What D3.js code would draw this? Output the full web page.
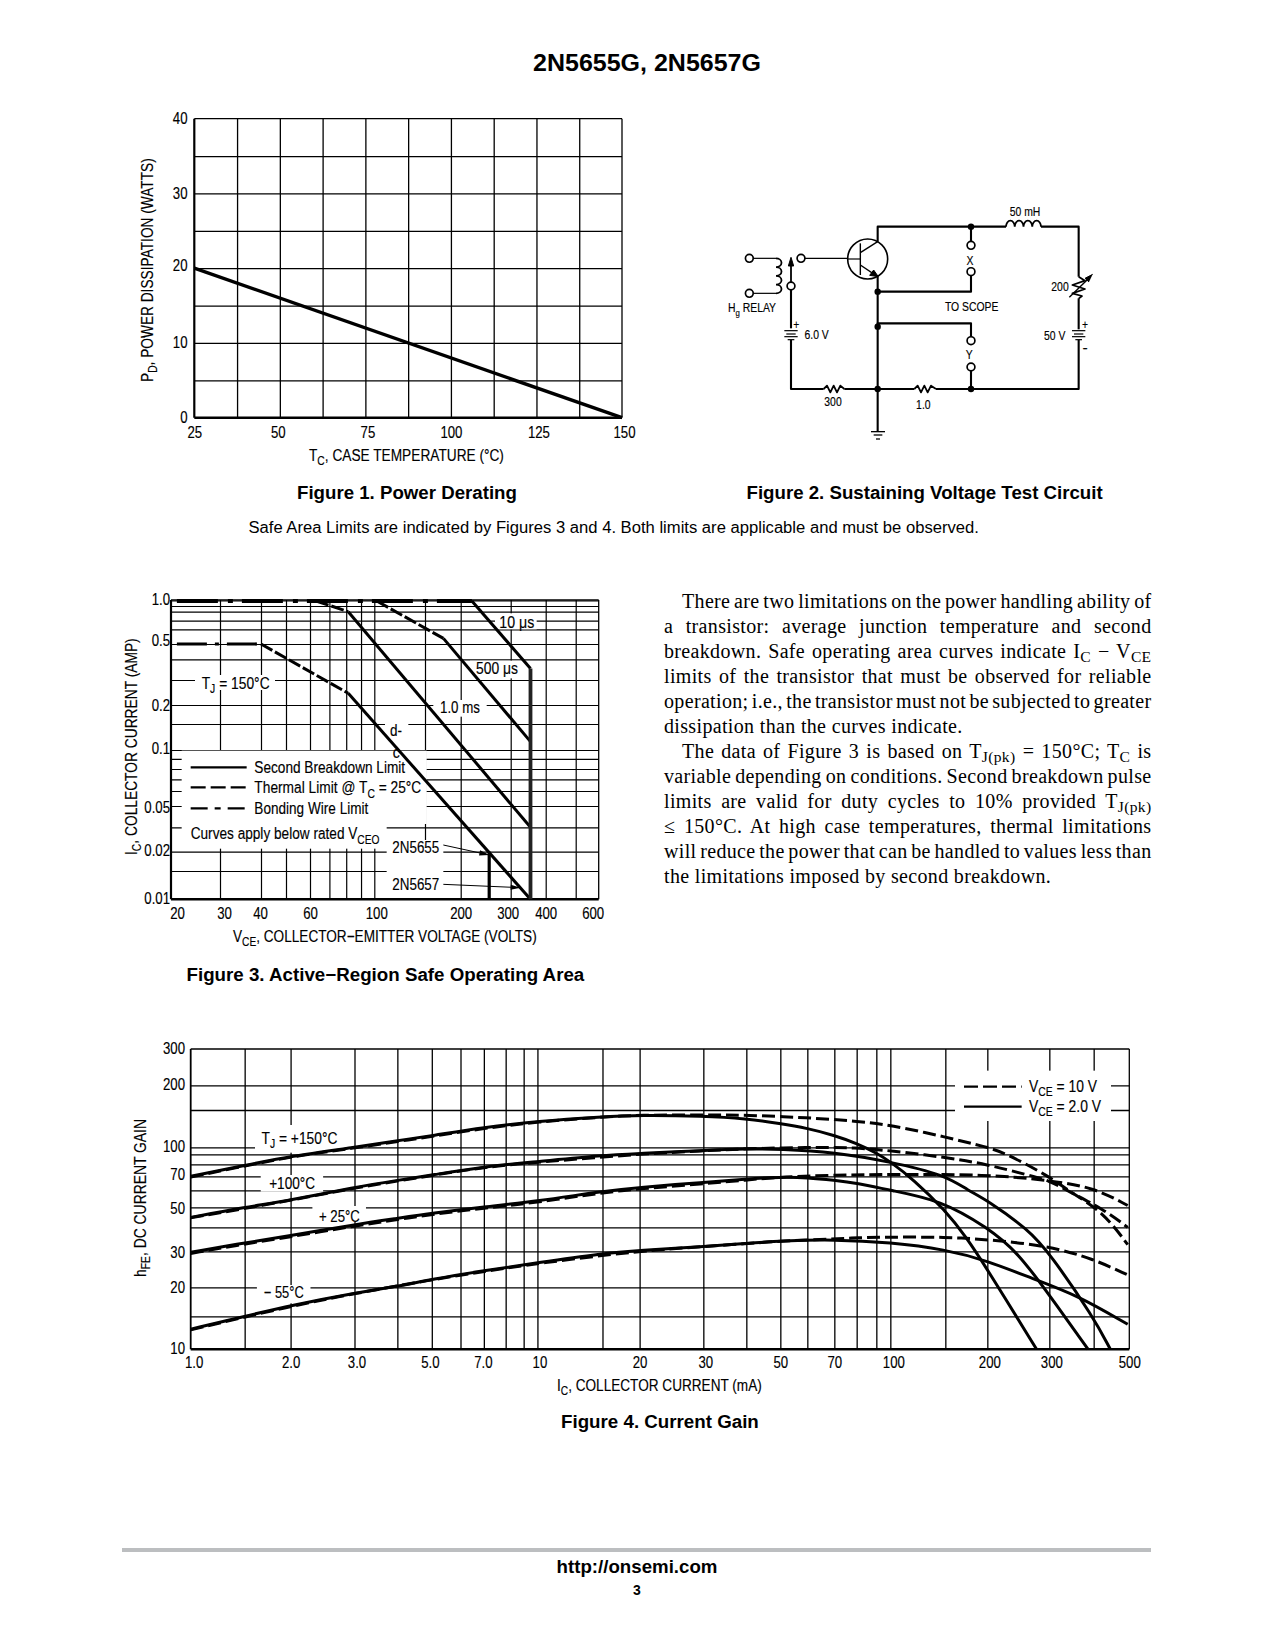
<!DOCTYPE html>
<html><head><meta charset="utf-8">
<script src="https://cdn.jsdelivr.net/npm/d3@7/dist/d3.min.js"></script>
<style>html,body{margin:0;padding:0;background:#fff}svg{display:block}</style>
</head><body><svg id="page" width="1275" height="1650" xmlns="http://www.w3.org/2000/svg"></svg>
<script>
// ---------- Figure 1 data
const f1TempTicks = [25,50,75,100,125,150];
const f1PowerTicks = [0,10,20,30,40];
const f1TempGrid = [37.5,50,62.5,75,87.5,100,112.5,125,137.5];
const f1PowerGrid = [5,10,15,20,25,30,35];
const f1Derating = [[25,20],[150,0]];
// ---------- Figure 3 data
const f3VoltTicks = [20,30,40,60,100,200,300,400,600];
const f3VoltGrid = [30,40,50,60,70,80,90,100,150,200,300,400,500];
const f3AmpTicks = [0.01,0.02,0.05,0.1,0.2,0.5,1];
const f3AmpGrid = [0.015,0.02,0.03,0.05,0.06,0.07,0.08,0.09,0.1,0.15,0.2,0.3,0.4,0.5,0.6,0.7,0.8,0.9];
const f3Bond1A = [[21,1],[219,1]];
const f3BondHalf = [[21,0.5],[40,0.5]];
const f3ThermDC = [[40,0.5],[81.3,0.242]];
const f3Therm1ms = [[63,1],[81.3,0.8]];
const f3Therm500 = [[102,1],[174,0.536]];
const f3SecondDC = [[81.3,0.242],[353,0.01]];
const f3Second1ms = [[81.3,0.8],[353,0.03]];
const f3Second500 = [[174,0.536],[353,0.114]];
const f3Second10 = [[219,1],[353,0.352]];
const f3Limit5657 = [[353,0.352],[353,0.01]];
const f3Limit5655 = [[252,0.02],[252,0.01]];
// ---------- Figure 4 data
const f4CurrentTicks = [1,2,3,5,7,10,20,30,50,70,100,200,300,500];
const f4CurrentGrid = [1.5,2,3,4,5,6,7,8,9,10,15,20,30,40,50,60,70,80,90,100,150,200,300,400];
const f4GainTicks = [10,20,30,50,70,100,200,300];
const f4GainGrid = [15,20,30,40,50,60,70,80,90,100,150,200];
const s150 = [[1,70],[1.5,79],[2,88],[3,100],[4,107.5],[5,113.5],[7,124],[10,133],[15,139.5],[20,142],[30,140.5],[40,136.5],[50,129.5],[60,123],[70,114],[80,104.4],[90,92],[100,82.5],[118,68],[150,48.4],[173,35.6],[200,24.5],[276,10]];
const d150 = [[1,69.5],[1.5,78.5],[2,87.5],[3,99],[4,106.5],[5,112.5],[7,123],[10,132],[15,139],[20,142],[30,142],[40,142],[60,138],[80,133],[100,127.6],[150,112],[200,100],[222,93],[300,70],[343,59],[425,47.5],[495,32.5]];
const s100 = [[1,44.7],[1.5,50],[2,54],[3,62],[4,67],[5,71],[7,78],[10,82.5],[15,89],[20,91],[30,95.5],[40,98],[50,97.5],[70,93],[100,82.5],[150,71],[175,60],[200,54],[261,39],[300,29.5],[400,14.8],[444,10]];
const d100 = [[1,44.5],[2,53.8],[3,61.7],[5,70.6],[7,77.6],[10,82],[20,90.5],[30,95],[40,98],[60,100],[80,99.5],[100,95],[150,87],[200,80],[260,71],[300,67],[345,58.5],[425,49],[495,40]];
const s25 = [[1,29.7],[1.5,33.2],[2,36.2],[3,41.2],[4,44.2],[5,46.8],[7,50.3],[10,53.4],[15,59.4],[20,62],[30,65.5],[40,68],[50,69.5],[60,69],[70,67],[80,65],[100,60],[145,54],[200,40],[245,29.5],[300,18.5],[386,10]];
const d25 = [[1,29.3],[1.5,32.8],[2,35.7],[3,40.6],[4,43.6],[5,46.2],[7,49.6],[10,52.7],[15,58.6],[20,61],[30,64.5],[40,67.2],[50,69.5],[70,71],[100,71.5],[200,71.5],[300,67],[400,62],[495,51]];
const sM55 = [[1,12.8],[1.5,15],[2,16.7],[3,18.9],[4,20.2],[5,21.9],[7,24.1],[10,26.4],[15,29.3],[20,30.3],[30,31.8],[40,33],[50,34],[70,34.6],[100,33.4],[150,30.7],[200,27],[270,22],[360,18.5],[495,13.6]];
const dM55 = [[1,12.7],[2,16.6],[3,18.8],[5,21.8],[7,23.9],[10,26.2],[20,30.2],[30,31.7],[50,34],[70,34.8],[80,35.3],[100,35.6],[150,35.6],[200,34.6],[300,32],[400,27.5],[495,23]];
// ---------- Text
const paragraphLines = [
  [["There are two limitations on the power handling ability of"]],
  [["a transistor: average junction temperature and second"]],
  [["breakdown. Safe operating area curves indicate I"],["C","sub"],[" − V"],["CE","sub"]],
  [["limits of the transistor that must be observed for reliable"]],
  [["operation; i.e., the transistor must not be subjected to greater"]],
  [["dissipation than the curves indicate."]],
  [["The data of Figure 3 is based on T"],["J(pk)","sub"],[" = 150°C; T"],["C","sub"],[" is"]],
  [["variable depending on conditions. Second breakdown pulse"]],
  [["limits are valid for duty cycles to 10% provided T"],["J(pk)","sub"]],
  [["≤ 150°C. At high case temperatures, thermal limitations"]],
  [["will reduce the power that can be handled to values less than"]],
  [["the limitations imposed by second breakdown."]]
];

const svg = d3.select("#page");
svg.append("rect").attr("width",1275).attr("height",1650).attr("fill","#fff");
const SANS = "'Liberation Sans', Arial, sans-serif", SERIF = "'Liberation Serif', serif";
const NARROW = 0.8, TICK = 16.5, HEAVY = 0.15;

function label(parent, segs, x, y, o={}){
  const size = o.size||TICK, anchor=o.anchor||"start";
  if(typeof segs==="string") segs=[[segs]];
  const t = parent.append("text").attr("font-family",o.family||SANS).attr("font-size",size)
    .attr("font-weight",o.weight||"normal").attr("text-anchor",anchor).attr("fill","#000");
  if(o.heavy!==false && !o.weight && !o.family) t.attr("stroke","#000").attr("stroke-width",HEAVY);
  if(o.spacing) t.attr("letter-spacing",o.spacing);
  let low=false;
  segs.forEach(s=>{
    const ts=t.append("tspan").text(s[0]);
    t.style("white-space","pre");
    const sub=s[1]==="sub";
    if(sub){ts.attr("font-size",size*(o.subScale||0.75));}
    if(sub&&!low){ts.attr("dy",size*(o.subDrop||0.27));low=true;}
    else if(!sub&&low){ts.attr("dy",-size*(o.subDrop||0.27));low=false;}
  });
  const yy = o.center? y+size*0.36 : y;
  let sx = o.sx||NARROW;
  if(o.width){ sx = o.width/t.node().getComputedTextLength(); }
  t.attr("transform",`translate(${x},${yy})${o.rotate?` rotate(${o.rotate})`:""} scale(${sx},1)`);
  return t;
}
function drawPath(g,data,x,y,o={}){
  const gen=d3.line().x(d=>x(d[0])).y(d=>y(d[1]));
  if(o.curve) gen.curve(o.curve);
  return g.append("path").datum(data).attr("d",gen).attr("fill","none").attr("stroke",o.color||"#000")
    .attr("stroke-width",o.w||3).attr("stroke-dasharray",o.dash||null)
    .attr("stroke-linecap",o.cap||"butt").attr("stroke-linejoin","round");
}
function gridX(g,x,vals,top,bottom,w=1.3){
  const a=g.append("g").attr("transform",`translate(0,${bottom})`)
    .call(d3.axisBottom(x).tickValues(vals).tickSize(-(bottom-top)).tickFormat(""));
  a.select(".domain").remove(); a.selectAll("line").attr("stroke","#000").attr("stroke-width",w);
}
function gridY(g,y,vals,left,right,w=1.3){
  const a=g.append("g").attr("transform",`translate(${left},0)`)
    .call(d3.axisLeft(y).tickValues(vals).tickSize(-(right-left)).tickFormat(""));
  a.select(".domain").remove(); a.selectAll("line").attr("stroke","#000").attr("stroke-width",w);
}
function frame(g,l,t,r,b,o={}){
  const R=(x1,y1,x2,y2,w)=>g.append("line").attr("x1",x1).attr("y1",y1).attr("x2",x2).attr("y2",y2).attr("stroke","#000").attr("stroke-width",w);
  R(l,t,r,t,1.3);R(r,t,r,b,1.3);R(l,t,l,b,o.lw||2.2);R(l,b,r,b,o.bw||2.4);
}
function xLabels(g,x,vals,base,fmt,nudge=()=>0,size=TICK){
  const a=g.append("g").attr("transform",`translate(0,${base})`)
    .call(d3.axisBottom(x).tickValues(vals).tickSize(0).tickPadding(0).tickFormat(fmt));
  a.select(".domain").remove();a.selectAll("line").remove();
  a.selectAll("text").attr("dy",0).attr("y",0).attr("font-family",SANS).attr("font-size",size).attr("fill","#000")
    .attr("stroke","#000").attr("stroke-width",HEAVY)
    .attr("transform",d=>`translate(${nudge(d)},0) scale(${NARROW},1)`);
}
function yLabels(g,y,vals,rightX,fmt,nudge=()=>0,size=TICK){
  const a=g.append("g").attr("transform",`translate(${rightX},0)`)
    .call(d3.axisLeft(y).tickValues(vals).tickSize(0).tickPadding(0).tickFormat(fmt));
  a.select(".domain").remove();a.selectAll("line").remove();
  a.selectAll("text").attr("x",0).attr("dy",0).attr("y",size*0.36).attr("font-family",SANS).attr("font-size",size).attr("fill","#000")
    .attr("stroke","#000").attr("stroke-width",HEAVY)
    .attr("transform",d=>`translate(0,${nudge(d)}) scale(${NARROW},1)`);
}
function mask(g,x0,y0,x1,y1){g.append("rect").attr("x",x0).attr("y",y0).attr("width",x1-x0).attr("height",y1-y0).attr("fill","#fff");}

// ---------- Page header and captions
label(svg,"2N5655G, 2N5657G",647,71,{size:23,weight:"bold",anchor:"middle",width:228});
label(svg,"Figure 1. Power Derating",297,499,{size:19,weight:"bold",width:220});
label(svg,"Figure 2. Sustaining Voltage Test Circuit",746.5,499,{size:19,weight:"bold",width:356.5});
label(svg,"Safe Area Limits are indicated by Figures 3 and 4. Both limits are applicable and must be observed.",248.5,533,{size:15.8,width:731,heavy:false});
label(svg,"Figure 3. Active−Region Safe Operating Area",186.5,981,{size:19,weight:"bold",width:398});
label(svg,"Figure 4. Current Gain",561,1428,{size:19,weight:"bold",width:198});
svg.append("rect").attr("x",122).attr("y",1548).attr("width",1029).attr("height",4).attr("fill","#bcbec0");
label(svg,"http://onsemi.com",637,1573,{size:18.5,weight:"bold",anchor:"middle",width:161});
label(svg,"3",637,1595,{size:14,weight:"bold",anchor:"middle",sx:1});

// ---------- Figure 1
(function(){
  const l=194.3,r=622,t=118.7,b=417.7;
  const x=d3.scaleLinear().domain([25,150]).range([l,r]);
  const y=d3.scaleLinear().domain([0,40]).range([b,t]);
  const g=svg.append("g");
  gridX(g,x,f1TempGrid,t,b);gridY(g,y,f1PowerGrid,l,r);frame(g,l,t,r,b);
  drawPath(g,f1Derating,x,y,{w:3.4});
  xLabels(g,x,f1TempTicks,437.5,d=>d,d=>({25:0,50:-2,75:2,100:0,125:2,150:2})[d]);
  yLabels(g,y,f1PowerTicks,187.5,d=>d,d=>({0:-1,10:-1,20:-4,30:-1,40:-1})[d]);
  label(g,[["T"],["C","sub"],[", CASE TEMPERATURE (°C)"]],309,460.5,{width:195});
  label(g,[["P"],["D","sub"],[", POWER DISSIPATION (WATTS)"]],152.5,382,{rotate:-90,width:224});
})();

// ---------- Figure 2: schematic, drawn in its own sheet units through two linear scales
(function(){
  const sx=d3.scaleLinear().domain([0,1380]).range([681,1141]);
  const sy=d3.scaleLinear().domain([0,960]).range([180,500]);
  const g=svg.append("g");
  const line=d3.line().x(d=>sx(d[0])).y(d=>sy(d[1]));
  const P=(pts,w=2,extra={})=>{const p=g.append("path").attr("d",line(pts)).attr("fill",extra.fill||"none").attr("stroke","#000").attr("stroke-width",w).attr("stroke-linejoin","round");return p;};
  const coil=(x0,x1,y0,n,r)=>{
    let d=`M${sx(x0)},${sy(y0)}`;const step=(sx(x1)-sx(x0))/n;
    for(let i=0;i<n;i++)d+=` a${step/2},${r} 0 0 1 ${step},0`;
    g.append("path").attr("d",d).attr("fill","none").attr("stroke","#000").attr("stroke-width",1.8);
  };
  const wires=[
    [[590,185],[590,140],[975,140]],[[1080,140],[1193,140],[1193,290]],[[1193,355],[1193,448]],
    [[1193,480],[1193,627],[765,627]],[[700,627],[490,627]],[[428,627],[330,627],[330,480]],[[330,445],[330,330]],
    [[590,290],[590,755]],[[590,335],[870,335],[870,288]],[[870,140],[870,184]],
    [[590,440],[590,430],[870,430],[870,470]],[[870,573],[870,627]]
  ];
  wires.forEach(w=>P(w,2.1));
  P([[428,627],[438,617],[448,637],[458,617],[468,637],[478,617],[490,627]],1.8);
  P([[700,627],[710,617],[720,637],[730,617],[740,637],[750,617],[765,627]],1.8);
  P([[1193,290],[1212,302],[1174,315],[1212,327],[1174,340],[1203,348],[1193,356]],1.8);
  P([[1165,352],[1225,293]],1.4);
  P([[1235,283],[1212,295],[1224,306]],1,{fill:"#000"}).attr("stroke-linejoin","miter");
  coil(975,1080,140,4,6);
  let cd=`M${sx(285)},${sy(235)}`;const stp=(sy(340)-sy(235))/4;
  for(let i=0;i<4;i++)cd+=` a5.5,${stp/2} 0 0 1 0,${stp}`;
  g.append("path").attr("d",cd).attr("fill","none").attr("stroke","#000").attr("stroke-width",1.8);
  P([[217,235],[285,235]],1.2);P([[217,340],[285,340]],1.2);
  P([[372,235],[500,235]],1.2);
  P([[330,306],[330,250]],1.8);
  P([[330,232],[322,258],[338,258],[330,232]],1,{fill:"#000"});
  g.append("ellipse").attr("cx",sx(560)).attr("cy",sy(237)).attr("rx",20).attr("ry",20).attr("fill","none").attr("stroke","#000").attr("stroke-width",1.6);
  P([[538,190],[538,285]],1.4);P([[500,237],[538,237]],1.2);P([[538,218],[590,185]],1.4);P([[538,255],[590,290]],1.4);
  P([[592,290],[566,286],[578,270],[592,290]],1,{fill:"#000"});
  [330,1193].forEach(b=>{
    P([[b-20,452],[b+20,452]],1.2);P([[b-14,462],[b+14,462]],1.2);P([[b-20,470],[b+20,470]],1.2);P([[b-10,479],[b+10,479]],1.2);
  });
  P([[570,755],[612,755]],1.3);P([[578,765],[604,765]],1.3);P([[585,777],[597,777]],1.3);
  [[870,140],[590,335],[590,440],[590,627],[870,627]].forEach(d=>g.append("circle").attr("cx",sx(d[0])).attr("cy",sy(d[1])).attr("r",3.2).attr("fill","#000"));
  [[205,235],[205,340],[360,235],[330,318],[870,196],[870,275],[870,482],[870,561]].forEach(d=>g.append("circle").attr("cx",sx(d[0])).attr("cy",sy(d[1])).attr("r",3.9).attr("fill","#fff").attr("stroke","#000").attr("stroke-width",1.7));
  const L=(s,X,Y,o={})=>label(g,s,sx(X),sy(Y),Object.assign({size:13,center:true,anchor:"middle"},o));
  L("50 mH",1032,95);L("200",1137,318);L("TO SCOPE",872,380);L("X",867,242);L("Y",865,523);
  L([["H"],["g","sub"],[" RELAY"]],213,383);L("6.0 V",407,462);L("50 V",1121,465);L("300",456,665);L("1.0",727,672);
  L("+",346,432);L("+",1212,432);L("-",1212,502,{sx:1.2});
})();

// ---------- Body text
(function(){
  const g=svg.append("g");
  const left=664,right=1151.5,indent=682,base0=608,lead=25,size=20;
  const lastLines=new Set([5,11]);
  paragraphLines.forEach((segs,i)=>{
    const x=(i===0||i===6)?indent:left;
    const t=label(g,segs,x,base0+lead*i,{family:SERIF,size,sx:1,subScale:0.78,subDrop:0.2,spacing:0.34});
    if(!lastLines.has(i)){
      const len=t.node().getComputedTextLength();
      const spaces=segs.map(s=>s[0]).join("").split(" ").length-1;
      t.attr("word-spacing",(right-x-len)/spaces);
    }
  });
})();

// ---------- Figure 3
(function(){
  const Z=X=>100+X/3, W=Y=>570+Y/3;
  const l=171,r=598.7,t=600,b=899.3;
  const x=d3.scaleLog().domain([20,30,40,50,60,100,150,200,300,400,500,600])
    .range([l,220,261,286,310,374.3,425,460.7,510.7,545.7,575.7,r]);
  const y=d3.scaleLog().domain([0.01,0.015,0.02,0.03,0.05,0.06,0.07,0.08,0.1,0.15,0.2,0.3,0.4,0.5,0.6,0.7,0.8,0.9,1])
    .range([b,W(903),W(845),W(772),W(708),W(663),W(628),W(597),W(540),W(462),W(405),W(330),W(268),W(222),W(178),W(152),W(125),W(108),W(93)]);
  const g=svg.append("g");
  gridX(g,x,f3VoltGrid,t,b,1.2);gridY(g,y,f3AmpGrid,l,r,1.2);
  g.append("line").attr("x1",l).attr("x2",r).attr("y1",y(1)).attr("y2",y(1)).attr("stroke","#000").attr("stroke-width",1.2);
  mask(g,Z(245),W(542),Z(980),W(762));mask(g,Z(245),W(762),Z(860),W(836));
  mask(g,Z(1185),W(130),Z(1310),W(178));mask(g,Z(1110),W(272),Z(1270),W(325));
  mask(g,Z(1000),W(390),Z(1160),W(440));mask(g,Z(285),W(315),Z(525),W(360));
  mask(g,Z(855),W(455),Z(925),W(505));
  mask(g,Z(860),W(810),Z(1030),W(985));
  frame(g,l,t,r,b,{bw:2.6});
  const BOND="41 10 5 9", THERM="13 3";
  drawPath(g,f3Bond1A,x,y,{w:4,dash:BOND});
  drawPath(g,f3BondHalf,x,y,{w:3.2,dash:"30 8 4 8"});
  drawPath(g,f3ThermDC,x,y,{dash:THERM});drawPath(g,f3Therm1ms,x,y,{dash:THERM});drawPath(g,f3Therm500,x,y,{dash:THERM});
  drawPath(g,f3SecondDC,x,y);drawPath(g,f3Second1ms,x,y);drawPath(g,f3Second500,x,y);drawPath(g,f3Second10,x,y);
  drawPath(g,f3Limit5657,x,y,{w:3.8,color:"#222"});drawPath(g,f3Limit5655,x,y,{w:3.2});
  const T=(s,X,Y,o={})=>label(g,s,Z(X),W(Y),Object.assign({center:true},o));
  T("10 μs",1198,155,{width:35});T("500 μs",1128,295,{width:42});T("1.0 ms",1020,412,{width:40});
  T([["T"],["J","sub"],[" = 150°C"]],305,338,{width:68});
  T("d-",870,480,{width:12});T("c",878,545,{width:7});
  [[592,null],[652,"15 5"],[715,"17 7 6 7"]].forEach(d=>g.append("line").attr("x1",Z(272)).attr("x2",Z(440)).attr("y1",W(d[0])).attr("y2",W(d[0])).attr("stroke","#000").attr("stroke-width",2.2).attr("stroke-dasharray",d[1]));
  T("Second Breakdown Limit",463,592,{width:151});
  T([["Thermal Limit @ T"],["C","sub"],[" = 25°C"]],463,652,{width:167});
  T("Bonding Wire Limit",463,715,{width:114});
  T([["Curves apply below rated V"],["CEO","sub"]],272,790,{width:189});
  T("2N5655",877,830,{width:47});T("2N5657",877,943,{width:47});
  const arrow=(a,c)=>{
    g.append("line").attr("x1",Z(a[0])).attr("y1",W(a[1])).attr("x2",Z(c[0])).attr("y2",W(c[1])).attr("stroke","#000").attr("stroke-width",1);
    const ang=Math.atan2(c[1]-a[1],c[0]-a[0])*180/Math.PI;
    g.append("path").attr("d","M0,0L-10,-2.6L-10,2.6Z").attr("transform",`translate(${Z(c[0])},${W(c[1])}) rotate(${ang})`).attr("fill","#000");
  };
  arrow([1030,825],[1168,855]);arrow([1030,943],[1262,953]);
  xLabels(g,x,f3VoltTicks,918.5,d=>d,d=>({20:6,30:4,40:-1,60:0,100:2,200:0,300:-3,400:0,600:-6})[d]);
  yLabels(g,y,f3AmpTicks,170,d=>d===1?"1.0":d,d=>({1:-2,0.5:-4,0.2:0,0.1:-2,0.05:1,0.02:-2,0.01:-2})[d]);
  label(g,[["V"],["CE","sub"],[", COLLECTOR−EMITTER VOLTAGE (VOLTS)"]],233,941.5,{width:304});
  label(g,[["I"],["C","sub"],[", COLLECTOR CURRENT (AMP)"]],137,855,{rotate:-90,width:217});
})();

// ---------- Figure 4
(function(){
  const ZL=X=>100+X/2.613, ZR=X=>660+X/3, W=Y=>1020+Y/3;
  const l=190.7,r=1129.3,t=1049,b=1349.3;
  const x=d3.scaleLog().domain([1,1.5,2,3,4,5,6,7,8,9,10,15,20,30,40,50,60,70,80,90,100,150,200,300,400,500])
    .range([l,ZL(378),ZL(498),ZL(665),ZL(777),ZL(867),ZL(942),ZL(1003),ZL(1060),ZL(1107),ZL(1143),ZL(1313),ZL(1410),ZR(130),ZR(259),ZR(361),ZR(442),ZR(523),ZR(590),ZR(649),ZR(691),ZR(856),ZR(982),ZR(1168),ZR(1301),r]);
  const y=d3.scaleLog().domain([10,15,20,30,40,50,60,70,80,90,100,150,200,300])
    .range([b,W(889),W(802),W(694),W(622),W(562),W(511),W(469),W(433),W(403),W(382),W(270),W(196),t]);
  const g=svg.append("g");
  gridX(g,x,f4CurrentGrid,t,b);gridY(g,y,f4GainGrid,l,r);
  mask(g,ZL(405),W(315),ZL(640),W(398));mask(g,ZL(420),W(465),ZL(583),W(515));
  mask(g,ZL(555),W(558),ZL(695),W(605));mask(g,ZL(410),W(795),ZL(550),W(850));
  mask(g,ZR(885),W(152),ZR(1353),W(303));
  frame(g,l,t,r,b,{lw:1.8,bw:2.6});
  const DASH="13 5",C=d3.curveBasis,W0=3;
  [d150,d100,d25,dM55].forEach(d=>drawPath(g,d,x,y,{curve:C,dash:DASH,w:W0}));
  [s150,s100,s25,sM55].forEach(d=>drawPath(g,d,x,y,{curve:C,w:W0}));
  const T=(s,X,Y,o={})=>label(g,s,X,W(Y),Object.assign({center:true},o));
  T([["T"],["J","sub"],[" = +150°C"]],ZL(422),353,{width:76});
  T("+100°C",ZL(442),490,{width:46});T("+ 25°C",ZL(572),587,{width:41});T("− 55°C",ZL(428),815,{width:40});
  T([["V"],["CE","sub"],[" = 10 V"]],ZR(1107),197,{width:68});
  T([["V"],["CE","sub"],[" = 2.0 V"]],ZR(1107),258,{width:72});
  g.append("line").attr("x1",ZR(912)).attr("x2",ZR(1085)).attr("y1",W(200)).attr("y2",W(200)).attr("stroke","#000").attr("stroke-width",2.2).attr("stroke-dasharray","14 5");
  g.append("line").attr("x1",ZR(912)).attr("x2",ZR(1085)).attr("y1",W(260)).attr("y2",W(260)).attr("stroke","#000").attr("stroke-width",2.2);
  xLabels(g,x,f4CurrentTicks,1367.5,d=>d<10?d.toFixed(1):d,d=>({1:3,2:0,3:2,5:-2,7:-1,10:2,20:0,30:2,50:0,70:0,100:3,200:2,300:2,500:0})[d]);
  yLabels(g,y,f4GainTicks,185,d=>d,d=>({10:-2,20:-1,30:0,50:0,70:-3,100:-2,200:-2,300:-1})[d]);
  label(g,[["I"],["C","sub"],[", COLLECTOR CURRENT (mA)"]],557,1390.5,{width:205});
  label(g,[["h"],["FE","sub"],[", DC CURRENT GAIN"]],146,1277,{rotate:-90,width:158});
})();
</script></body></html>
